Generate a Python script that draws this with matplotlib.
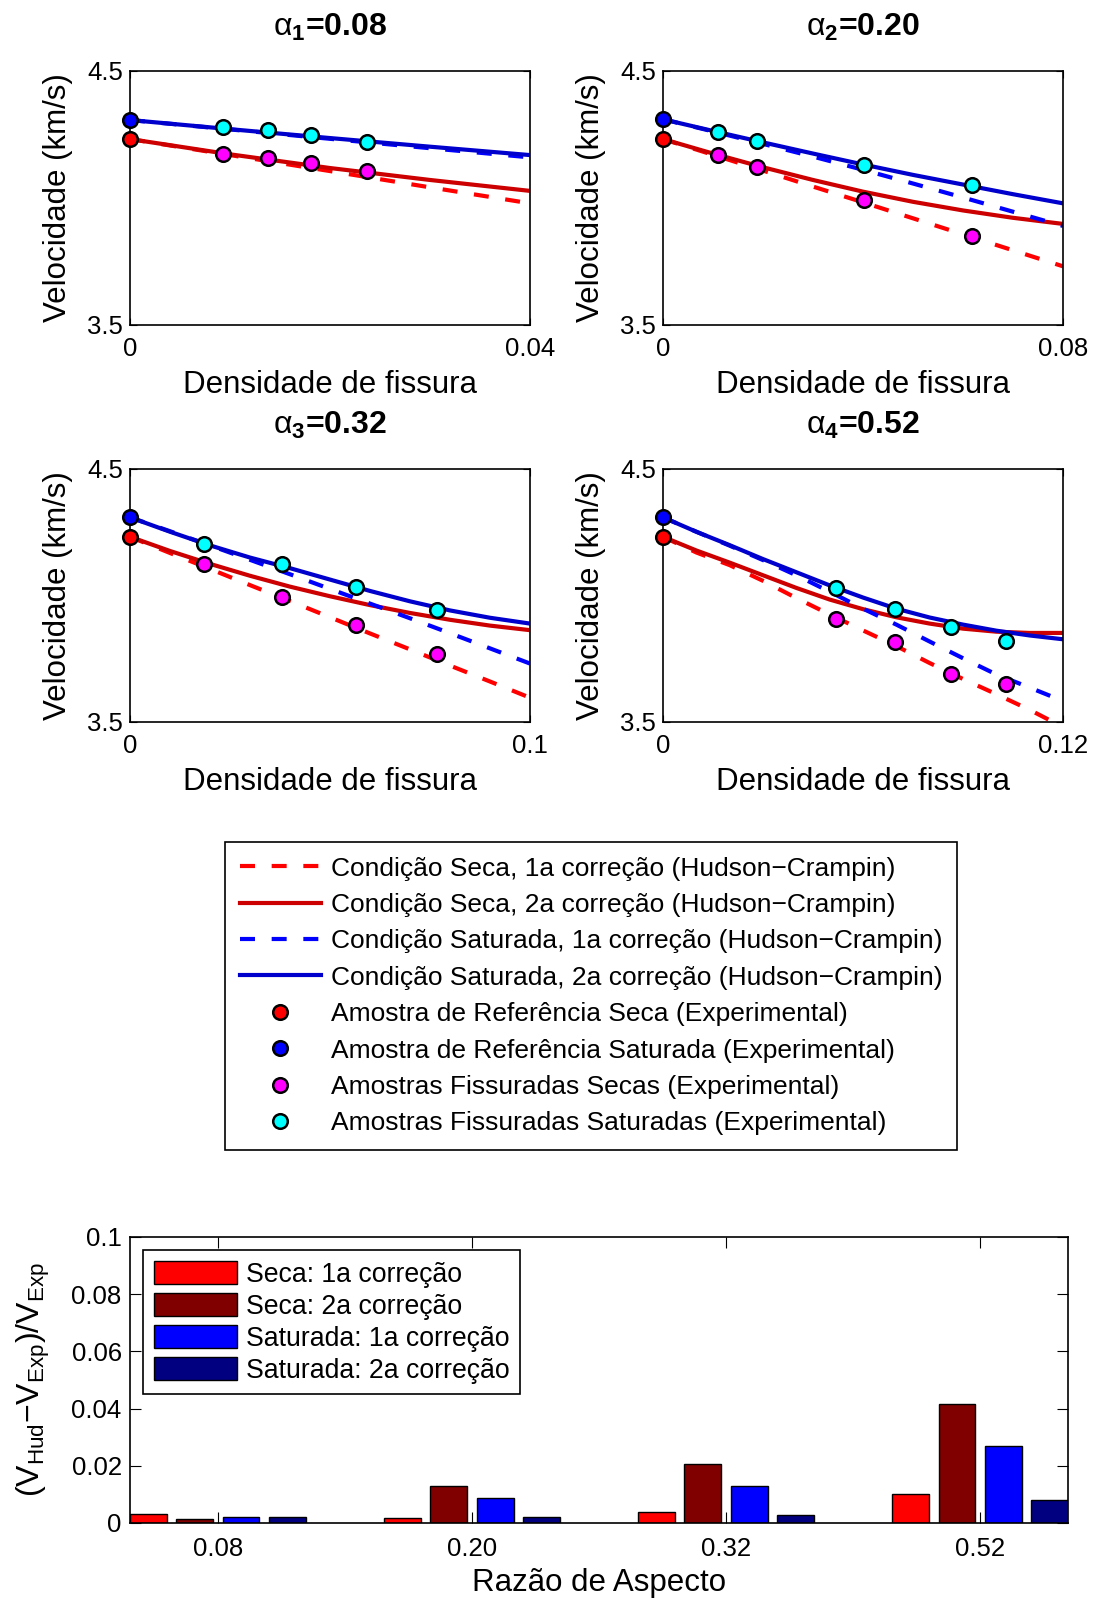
import matplotlib
matplotlib.use('Agg')
import matplotlib.pyplot as plt
import numpy as np

plt.rcParams.update({
    'font.family': ['Liberation Sans', 'DejaVu Sans'],
    'mathtext.fontset': 'custom',
    'mathtext.rm': 'Liberation Sans',
    'mathtext.it': 'Liberation Sans:italic',
    'mathtext.bf': 'Liberation Sans:bold',
    'axes.linewidth': 1.2,
})

# ---- data: velocity vs crack density, one entry per aspect ratio ----
alpha_labels = ['0.08', '0.20', '0.32', '0.52']
x_max = [0.04, 0.08, 0.1, 0.12]
x_tick_labels = ['0.04', '0.08', '0.1', '0.12']

# model curves (Hudson-Crampin)
grid_x = [
    [0, 0.01, 0.02, 0.03, 0.04],
    [0, 0.01, 0.02, 0.03, 0.04, 0.05, 0.06, 0.07, 0.08],
    [0, 0.01, 0.02, 0.03, 0.04, 0.05, 0.06, 0.07, 0.08, 0.09, 0.1],
    [0, 0.01, 0.02, 0.03, 0.04, 0.05, 0.06, 0.07, 0.08, 0.09, 0.10, 0.11, 0.12],
]
dry_1st = [
    [4.232, 4.169, 4.106, 4.042, 3.979],
    [4.232, 4.170, 4.108, 4.045, 3.983, 3.920, 3.857, 3.794, 3.731],
    [4.232, 4.168, 4.105, 4.041, 3.978, 3.914, 3.850, 3.787, 3.723, 3.660, 3.596],
    [4.232, 4.170, 4.120, 4.058, 3.990, 3.925, 3.862, 3.800, 3.733, 3.670, 3.610, 3.548, 3.480],
]
dry_2nd = [
    [4.232, 4.172, 4.118, 4.071, 4.028],
    [4.232, 4.175, 4.121, 4.071, 4.025, 3.985, 3.951, 3.922, 3.898],
    [4.232, 4.176, 4.125, 4.078, 4.035, 3.997, 3.962, 3.931, 3.904, 3.881, 3.863],
    [4.232, 4.178, 4.130, 4.080, 4.030, 3.984, 3.946, 3.914, 3.889, 3.869, 3.857, 3.852, 3.852],
]
sat_1st = [
    [4.307, 4.270, 4.233, 4.196, 4.160],
    [4.310, 4.262, 4.213, 4.163, 4.111, 4.057, 4.002, 3.946, 3.890],
    [4.309, 4.254, 4.198, 4.141, 4.084, 4.026, 3.968, 3.910, 3.851, 3.791, 3.731],
    [4.309, 4.252, 4.197, 4.140, 4.080, 4.015, 3.948, 3.885, 3.818, 3.752, 3.688, 3.636, 3.583],
]
sat_2nd = [
    [4.307, 4.271, 4.236, 4.202, 4.169],
    [4.310, 4.264, 4.219, 4.175, 4.132, 4.091, 4.053, 4.015, 3.979],
    [4.309, 4.252, 4.198, 4.150, 4.108, 4.063, 4.018, 3.977, 3.941, 3.912, 3.889],
    [4.309, 4.252, 4.199, 4.144, 4.092, 4.040, 3.992, 3.948, 3.913, 3.885, 3.861, 3.842, 3.827],
]

# experimental samples
ref_dry = [4.232, 4.232, 4.232, 4.232]
ref_sat = [4.307, 4.310, 4.309, 4.309]
crack_x = [
    [0.0093, 0.0138, 0.0181, 0.0237],
    [0.0109, 0.0187, 0.0402, 0.0618],
    [0.0185, 0.0379, 0.0564, 0.0767],
    [0.0520, 0.0695, 0.0863, 0.1028],
]
crack_dry = [
    [4.172, 4.159, 4.136, 4.106],
    [4.168, 4.121, 3.991, 3.850],
    [4.123, 3.995, 3.883, 3.768],
    [3.906, 3.817, 3.689, 3.649],
]
crack_sat = [
    [4.281, 4.268, 4.249, 4.222],
    [4.260, 4.224, 4.129, 4.050],
    [4.202, 4.123, 4.032, 3.943],
    [4.028, 3.945, 3.876, 3.819],
]

# ---- data: relative error per aspect ratio ----
aspect_labels = ['0.08', '0.20', '0.32', '0.52']
err_dry_1st = [0.0032, 0.0016, 0.0039, 0.0103]
err_dry_2nd = [0.0014, 0.0131, 0.0206, 0.0417]
err_sat_1st = [0.0022, 0.0088, 0.0130, 0.0269]
err_sat_2nd = [0.0020, 0.0020, 0.0029, 0.0081]

W, H = 1096, 1599
fig = plt.figure(figsize=(W / 100, H / 100), dpi=100)

positions = [
    [130 / W, 1 - 325 / H, 400 / W, 254 / H],
    [663 / W, 1 - 325 / H, 400 / W, 254 / H],
    [130 / W, 1 - 722 / H, 400 / W, 253 / H],
    [663 / W, 1 - 722 / H, 400 / W, 253 / H],
]

mk = dict(marker='o', linestyle='none', ms=10.5, mec='k', mew=1.8, clip_on=False, zorder=5)

for i, pos in enumerate(positions):
    ax = fig.add_axes(pos)
    x = grid_x[i]
    ax.plot(x, dry_1st[i], color='#FF0000', lw=3, dashes=(3.6, 4.0),
            label='Condição Seca, 1a correção (Hudson\u2212Crampin)')
    ax.plot(x, dry_2nd[i], color='#CC0000', lw=3,
            label='Condição Seca, 2a correção (Hudson\u2212Crampin)')
    ax.plot(x, sat_1st[i], color='#0000FF', lw=3, dashes=(3.6, 4.0),
            label='Condição Saturada, 1a correção (Hudson\u2212Crampin)')
    ax.plot(x, sat_2nd[i], color='#0000CC', lw=3,
            label='Condição Saturada, 2a correção (Hudson\u2212Crampin)')
    ax.plot([0], [ref_dry[i]], mfc='#FF0000', label='Amostra de Referência Seca (Experimental)', **mk)
    ax.plot([0], [ref_sat[i]], mfc='#0000FF', label='Amostra de Referência Saturada (Experimental)', **mk)
    ax.plot(crack_x[i], crack_dry[i], mfc='#FF00FF', label='Amostras Fissuradas Secas (Experimental)', **mk)
    ax.plot(crack_x[i], crack_sat[i], mfc='#00FFFF', label='Amostras Fissuradas Saturadas (Experimental)', **mk)

    ax.set_xlim(0, x_max[i])
    ax.set_ylim(3.5, 4.5)
    ax.set_xticks([0, x_max[i]])
    ax.set_xticklabels(['0', x_tick_labels[i]])
    ax.set_yticks([3.5, 4.5])
    ax.set_yticklabels(['3.5', '4.5'])
    ax.tick_params(direction='in', labelsize=18.5, length=5, top=True, right=True)
    ax.tick_params(axis='x', pad=9)
    ax.tick_params(axis='y', pad=5)
    ax.set_xlabel('Densidade de fissura', fontsize=22.5, labelpad=6)
    ax.set_ylabel('Velocidade (km/s)', fontsize=22.5, labelpad=10)
    ax.set_title(r'$\mathrm{\alpha}_{\mathbf{%d}}$=%s' % (i + 1, alpha_labels[i]),
                 fontsize=23, fontweight='bold', pad=25)
    if i == 0:
        handles, labels = ax.get_legend_handles_labels()

leg = fig.legend(handles, labels, loc='upper left', bbox_to_anchor=(225 / W, 1 - 842 / H),
                 borderaxespad=0, fontsize=19, numpoints=1, handlelength=3.1,
                 handletextpad=0.38, labelspacing=0.47, borderpad=0.55,
                 fancybox=False, edgecolor='k', framealpha=1)
leg.get_frame().set_linewidth(1.2)

# ---- bar chart ----
axb = fig.add_axes([130 / W, 1 - 1523 / H, 938 / W, 286 / H])
xb = np.arange(1, len(aspect_labels) + 1)
slot = 0.727 / 4
bw = 0.8 * slot
series = [
    (err_dry_1st, '#FF0000', 'Seca: 1a correção'),
    (err_dry_2nd, '#800000', 'Seca: 2a correção'),
    (err_sat_1st, '#0000FF', 'Saturada: 1a correção'),
    (err_sat_2nd, '#000080', 'Saturada: 2a correção'),
]
for k, (vals, col, lab) in enumerate(series):
    axb.bar(xb + (k - 1.5) * slot, vals, bw, color=col, edgecolor='k', linewidth=1.0, label=lab)

axb.set_xlim(0.654, 4.346)
axb.set_ylim(0, 0.1)
axb.set_xticks(xb)
axb.set_xticklabels(aspect_labels)
axb.set_yticks([0, 0.02, 0.04, 0.06, 0.08, 0.1])
axb.set_yticklabels(['0', '0.02', '0.04', '0.06', '0.08', '0.1'])
axb.tick_params(direction='in', labelsize=18.5, length=8, top=True, right=True)
axb.tick_params(axis='x', pad=10)
axb.tick_params(axis='y', pad=6)
axb.set_xlabel('Razão de Aspecto', fontsize=22.5, labelpad=5)
axb.set_ylabel(r'$(\mathrm{V}_{\mathrm{Hud}}\mathrm{-V}_{\mathrm{Exp}})\mathrm{/V}_{\mathrm{Exp}}$',
               fontsize=23, labelpad=14)
lb = axb.legend(loc='upper left', fontsize=19.2, handlelength=3.1, handleheight=0.95,
                handletextpad=0.35, labelspacing=0.2, borderpad=0.4,
                fancybox=False, edgecolor='k', framealpha=1)
lb.get_frame().set_linewidth(1.2)

fig.savefig('out.png', dpi=100)
